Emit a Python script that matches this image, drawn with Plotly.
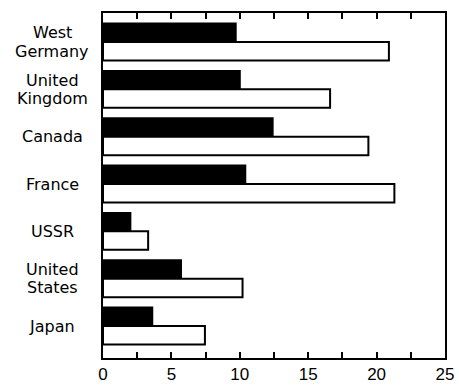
import plotly.graph_objects as go

categories = ["West\nGermany", "United\nKingdom", "Canada", "France", "USSR", "United\nStates", "Japan"]
black_values = [9.7, 10.0, 12.4, 10.4, 2.0, 5.7, 3.6]
white_values = [20.9, 16.6, 19.4, 21.3, 3.3, 10.2, 7.45]
tick_values = [0, 2.5, 5, 7.5, 10, 12.5, 15, 17.5, 20, 22.5, 25]
tick_labels = ["0", "", "5", "", "10", "", "15", "", "20", "", "25"]

ypos = list(range(len(categories)))

fig = go.Figure()
fig.add_trace(go.Bar(
    y=ypos, x=black_values, orientation="h",
    marker=dict(color="black", line=dict(color="black", width=2)),
    showlegend=False, cliponaxis=False,
))
fig.add_trace(go.Bar(
    y=ypos, x=white_values, orientation="h",
    marker=dict(color="white", line=dict(color="black", width=2)),
    showlegend=False, cliponaxis=False,
))

label_font = "DejaVu Sans, sans-serif"
tick_font = "Liberation Sans, Arial, sans-serif"
for i, cat in enumerate(categories):
    lines = cat.split("\n")
    n = len(lines)
    for j, line in enumerate(lines):
        shift = ((n - 1) / 2 - j) * 18.5
        fig.add_annotation(
            x=-0.149, xref="paper", xanchor="center",
            y=i, yref="y", yanchor="middle", yshift=shift,
            text=line, showarrow=False,
            font=dict(family=label_font, size=16, color="black"),
        )

fig.update_layout(
    width=459, height=390,
    margin=dict(l=103, r=14, t=13, b=32, autoexpand=False),
    paper_bgcolor="white", plot_bgcolor="white",
    barmode="group", bargap=0.22, bargroupgap=0,
    font=dict(family=tick_font, color="black"),
)
fig.update_xaxes(
    range=[0, 25], tickvals=tick_values, ticktext=tick_labels,
    ticks="inside", ticklen=6, tickwidth=2, tickcolor="black",
    showline=True, linewidth=2, linecolor="black", mirror="ticks",
    showgrid=False, zeroline=False, automargin=False,
    tickfont=dict(family=tick_font, size=17, color="black"),
)
fig.update_yaxes(
    range=[6.676, -0.613], showticklabels=False, ticks="",
    showline=True, linewidth=2, linecolor="black", mirror=True,
    showgrid=False, zeroline=False, automargin=False,
)

fig.write_html(
    "out.html",
    config={"displayModeBar": False},
    post_script="document.body.style.margin='0';document.body.style.overflow='hidden';",
)
